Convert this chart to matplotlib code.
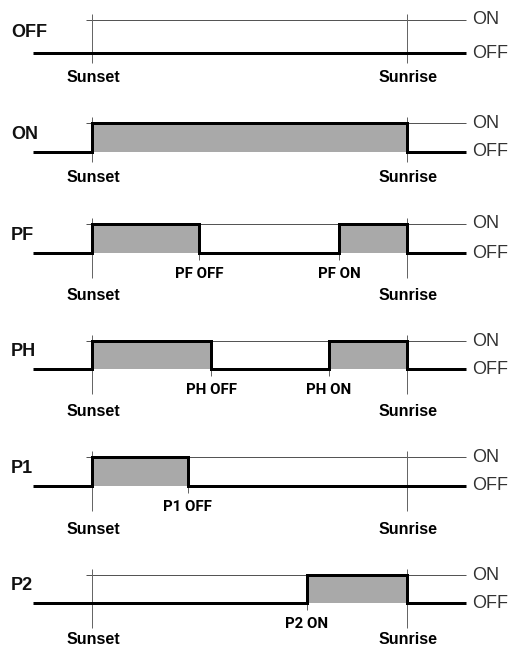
import numpy as np
import matplotlib
matplotlib.use("Agg")
import matplotlib.pyplot as plt

plt.rcParams['font.family'] = ['Liberation Sans', 'DejaVu Sans']

# --- data: switching programs over one night (0 = sunset, 100 = sunrise) ---
panel_names = ["OFF", "ON", "PF", "PH", "P1", "P2"]
on_periods = [
    [],
    [(0, 100)],
    [(0, 34.0), (78.4, 100)],
    [(0, 37.8), (75.2, 100)],
    [(0, 30.4)],
    [(68.1, 100)],
]
sunset, sunrise = 0, 100
trace_start, trace_end = -18.7, 118.7
on_line_start = -1.9
level_labels = ["OFF", "ON"]

# --- layout (pixel rows of the ON / OFF levels of each panel) ---
W, H, DPI = 513, 650, 72
on_px = [20, 123, 224, 341, 457, 575]
off_px = [53, 152, 253, 369, 486, 603]
px_per_unit = 3.15
x0_px = 92

fig = plt.figure(figsize=(W / DPI, H / DPI), dpi=DPI)
fig.patch.set_facecolor('white')

for i, name in enumerate(panel_names):
    top, bot = on_px[i], off_px[i]
    g = bot - top
    ax = fig.add_axes([0, 1 - bot / H, 1, g / H])
    ax.set_xlim(-x0_px / px_per_unit, (W - x0_px) / px_per_unit)
    ax.set_ylim(0, 1)
    ax.axis('off')

    periods = on_periods[i]
    # events derived from on periods
    events = []
    for a, b in periods:
        if a > sunset:
            events.append((f"{name} ON", a))
        if b < sunrise:
            events.append((f"{name} OFF", b))
    has_events = len(events) > 0

    # grey fill for the ON periods
    for a, b in periods:
        ax.fill_between([a, b], 0, 1, color='#a9a9a9', lw=0, zorder=1, clip_on=False)

    # thin ON reference line
    ax.hlines(1, on_line_start, trace_end, color='#555555', lw=1, zorder=2, clip_on=False)

    # sunset / sunrise markers
    ext_b = 25 if has_events else 10
    ax.vlines([sunset, sunrise], -ext_b / g, 1 + 6 / g, color='#666666', lw=1,
              zorder=2, clip_on=False)
    for label, t in events:
        ax.vlines(t, -7 / g, 0, color='#666666', lw=1, zorder=2, clip_on=False)

    # step trace of the switch state
    xs, ys = [trace_start], [0]
    for a, b in periods:
        xs += [a, a, b, b]
        ys += [0, 1, 1, 0]
    xs.append(trace_end)
    ys.append(0)
    ax.plot(xs, ys, color='black', lw=3, solid_joinstyle='miter',
            solid_capstyle='butt', zorder=3, clip_on=False)

    # labels
    ax.text(11 / W, 0.62, name, transform=ax.get_yaxis_transform(),
            fontsize=18, weight='bold', ha='left', va='center', color='#111111')
    for lvl, txt in enumerate(level_labels):
        ax.annotate(txt, (trace_end, lvl), xytext=(6, 0), textcoords='offset points',
                    fontsize=18, ha='left', va='center', color='#333333',
                    annotation_clip=False)
    sun_off = 43 if has_events else 25
    if i == len(panel_names) - 1:
        sun_off = 36
    for txt, t in [("Sunset", sunset), ("Sunrise", sunrise)]:
        ax.annotate(txt, (t, 0), xytext=(1, -sun_off), textcoords='offset points',
                    fontsize=16, weight='bold', ha='center', va='center',
                    annotation_clip=False)
    for txt, t in events:
        ax.annotate(txt, (t, 0), xytext=(0, -21), textcoords='offset points',
                    fontsize=15, weight='bold', ha='center', va='center',
                    family=['Roboto', 'DejaVu Sans'], annotation_clip=False)

fig.savefig("out.png", dpi=DPI, facecolor='white')
